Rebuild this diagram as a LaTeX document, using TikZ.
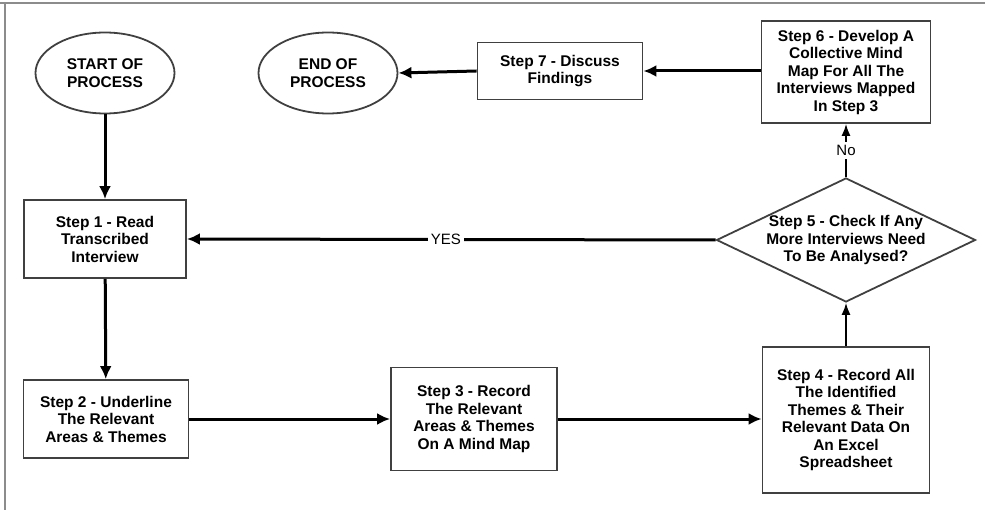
\documentclass[tikz,border=0pt]{standalone}
\usepackage{fontspec}
\setmainfont{Liberation Sans}
\usetikzlibrary{shapes.geometric,arrows.meta}

\tikzset{
  stepfont/.style={font=\bfseries\fontsize{15.5}{17.5}\selectfont},
  stepbox/.style={draw=black!75, line width=1.8pt, align=center, stepfont, inner sep=2pt},
  terminal/.style={ellipse, draw=black!75, line width=1.8pt, align=center, stepfont,
    minimum width=139pt, minimum height=81pt, inner sep=0pt},
  decision/.style={diamond, draw=black!75, line width=1.8pt, align=center, stepfont,
    minimum width=259pt, minimum height=124pt, inner sep=-40pt},
  flow/.style={line width=3pt, -{Latex[length=13pt,width=12pt]}},
  thinflow/.style={line width=1.6pt, -{Latex[length=12pt,width=9pt]}},
  answer/.style={fill=white, font=\fontsize{15}{17}\selectfont, inner sep=3pt}
}

\begin{document}
\begin{tikzpicture}[x=1pt,y=-1pt]
  \useasboundingbox (0,0) rectangle (985,510);
  % Cadre
  \draw[black!45, line width=1.5pt] (0,3) -- (985,3);
  \draw[black!45, line width=1.5pt] (5,3) -- (5,510);

  % Debut et fin
  \node[terminal] (start) at (105,73) {START OF\\PROCESS};
  \node[terminal] (finish) at (328,73) {END OF\\PROCESS};

  % Etapes
  \node[stepbox, minimum width=162pt, minimum height=78pt] (step1) at (105,239)
    {Step 1 - Read\\Transcribed\\Interview};
  \node[stepbox, minimum width=165pt, minimum height=78pt] (step2) at (106,419)
    {Step 2 - Underline\\The Relevant\\Areas \& Themes};
  \node[stepbox, minimum width=166pt, minimum height=103pt] (step3) at (474,419)
    {Step 3 - Record\\The Relevant\\Areas \& Themes\\On A Mind Map};
  \node[stepbox, minimum width=167pt, minimum height=146pt] (step4) at (846,420)
    {Step 4 - Record All\\The Identified\\Themes \& Their\\Relevant Data On\\An Excel\\Spreadsheet};
  \node[decision] (step5) at (846,240)
    {Step 5 - Check If Any\\More Interviews Need\\To Be Analysed?};
  \node[stepbox, minimum width=169pt, minimum height=102pt] (step6) at (846,72)
    {Step 6 - Develop A\\Collective Mind\\Map For All The\\Interviews Mapped\\In Step 3};
  \node[stepbox, minimum width=165pt, minimum height=57pt] (step7) at (560,71)
    {Step 7 - Discuss\\Findings};

  % Connexions
  \draw[flow] (start) -- (step1);
  \draw[flow] (step1) -- (step2);
  \draw[flow] (step2.east) -- (step3.west |- step2.east);
  \draw[flow] (step3.east) -- (step4.west |- step3.east);
  \draw[thinflow] (step4) -- (step5);
  \draw[thinflow] (step5) -- node[answer] (no) {No} (step6);
  \draw[flow] (step5.west) -- node[answer, pos=0.51] (yes) {YES} (step1.east);
  \draw[flow] (step6.west |- step7.east) -- (step7.east);
  \draw[flow] (step7.west) -- (finish.east);
\end{tikzpicture}
\end{document}
